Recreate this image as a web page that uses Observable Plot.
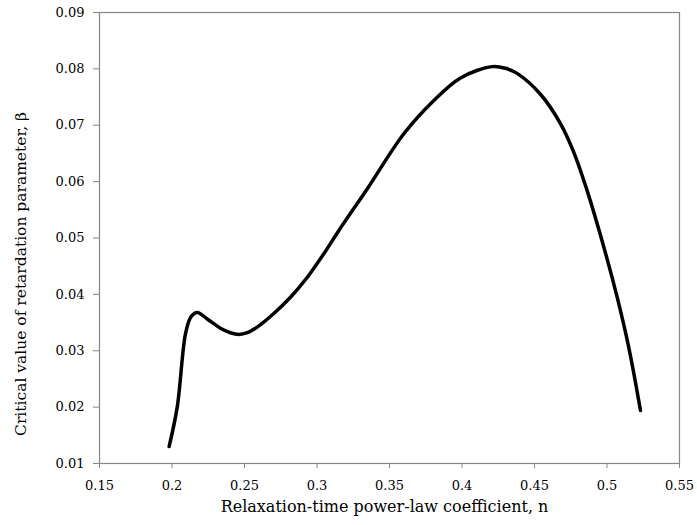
<!DOCTYPE html>
<html>
<head>
<meta charset="utf-8">
<script src="https://cdn.jsdelivr.net/npm/d3@7"></script>
<script src="https://cdn.jsdelivr.net/npm/@observablehq/plot@0.6"></script>
<style>
  html, body { margin: 0; padding: 0; background: #fff; }
  svg { display: block; }
</style>
</head>
<body>
<div id="chart"></div>
<script>
const nValues = [0.198, 0.2036, 0.2093, 0.2130, 0.2174, 0.2250, 0.2334, 0.2403, 0.2460, 0.2520, 0.2588, 0.2702, 0.2817, 0.2932, 0.3047, 0.3150, 0.3346, 0.3599, 0.3806, 0.3990, 0.4208, 0.4300, 0.4380, 0.4541, 0.4679, 0.4771, 0.4863, 0.4978, 0.5070, 0.5150, 0.5231];
const betaValues = [0.0130, 0.0200, 0.0330, 0.0360, 0.0368, 0.0355, 0.0340, 0.0332, 0.0329, 0.0332, 0.0342, 0.0366, 0.0395, 0.0430, 0.0472, 0.0513, 0.0587, 0.0685, 0.0744, 0.0784, 0.0804, 0.0801, 0.0792, 0.0755, 0.0703, 0.0652, 0.0584, 0.0484, 0.0395, 0.0306, 0.0194];
const xTicks = [0.15, 0.2, 0.25, 0.3, 0.35, 0.4, 0.45, 0.5, 0.55];
const yTicks = [0.01, 0.02, 0.03, 0.04, 0.05, 0.06, 0.07, 0.08, 0.09];
const xTitle = "Relaxation-time power-law coefficient, n";
const yTitle = "Critical value of retardation parameter, β";

const data = nValues.map((n, i) => ({n, beta: betaValues[i]}));
const axisColor = "#868686";

const chart = Plot.plot({
  width: 697,
  height: 525,
  marginLeft: 99,
  marginRight: 18,
  marginTop: 12,
  marginBottom: 62,
  style: {fontFamily: "DejaVu Serif", fontSize: "13px", color: "#000", background: "#fff"},
  x: {domain: [0.15, 0.55]},
  y: {domain: [0.01, 0.09]},
  marks: [
    Plot.frame({stroke: axisColor, strokeWidth: 1.2}),
    Plot.axisX({ticks: xTicks, tickFormat: d => String(+d.toFixed(2)), tickSize: 5, tickPadding: 12, stroke: axisColor, fill: "#000", label: null}),
    Plot.axisY({ticks: yTicks, tickFormat: d => d.toFixed(2), tickSize: 6, tickPadding: 9, stroke: axisColor, fill: "#000", label: null}),
    Plot.line(data, {x: "n", y: "beta", stroke: "#000", strokeWidth: 3.5, curve: "catmull-rom", strokeLinecap: "round"}),
    Plot.text([xTitle], {frameAnchor: "bottom", dy: 48, dx: -5, fontSize: 16, fill: "#000"}),
    Plot.text([yTitle], {frameAnchor: "left", textAnchor: "middle", rotate: -90, dx: -78, dy: 36, fontSize: 15.5, fill: "#000"})
  ]
});
document.getElementById("chart").appendChild(chart);
</script>
</body>
</html>
